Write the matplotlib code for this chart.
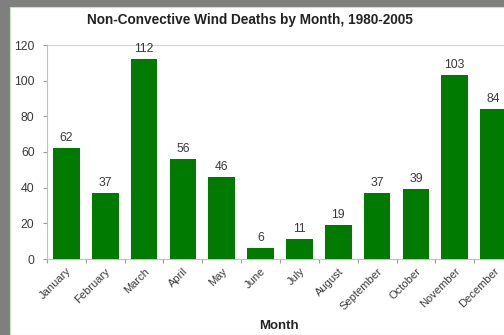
import matplotlib
matplotlib.use("Agg")
import matplotlib.pyplot as plt
from matplotlib.patches import Rectangle

months = ["January", "February", "March", "April", "May", "June", "July",
          "August", "September", "October", "November", "December"]
deaths = [62, 37, 112, 56, 46, 6, 11, 19, 37, 39, 103, 84]
yticks = [0, 20, 40, 60, 80, 100, 120]

plt.rcParams['font.family'] = ['Liberation Sans', 'DejaVu Sans']

fig = plt.figure(figsize=(5.04, 3.35), dpi=100, facecolor='#7f807e')
fig.patches.append(Rectangle((10/504, 0), 1, (335-7)/335, transform=fig.transFigure,
                             facecolor='white', edgecolor='#c8e0c0', linewidth=0.8, zorder=-5))

ax = fig.add_axes([47/504, 76/335, 466/504, 214/335])
ax.set_facecolor('none')
x = list(range(len(months)))
ax.bar(x, deaths, width=0.69, color='#007a00', zorder=3)
for xi, v in zip(x, deaths):
    ax.text(xi, v + 2.5, str(v), ha='center', va='bottom', fontsize=8.8, color='#3a3a3a')

ax.set_xlim(-0.5, len(months) - 0.5)
ax.set_ylim(0, 120)
ax.set_yticks(yticks)
ax.tick_params(axis='y', labelsize=8.8, colors='#999999', labelcolor='#3a3a3a', length=3, width=0.8, pad=6)
ax.set_xticks(x)
ax.set_xticklabels(months, rotation=45, ha='right', rotation_mode='anchor', fontsize=8, color='#3a3a3a')
ax.tick_params(axis='x', length=0, pad=5)
ax.set_xticks([i + 0.5 for i in range(-1, len(months))], minor=True)
ax.tick_params(axis='x', which='minor', length=3, width=0.8, color='#999999')
ax.axhline(120, color='#d0d0d0', linewidth=0.8, zorder=1)

for s in ['top', 'right']:
    ax.spines[s].set_visible(False)
ax.spines['left'].set_color('#c0c0c0')
ax.spines['bottom'].set_color('#c0c0c0')
ax.spines['left'].set_linewidth(0.8)
ax.spines['bottom'].set_linewidth(0.8)

fig.text(250/504, 1 - 20/335, "Non-Convective Wind Deaths by Month, 1980-2005", ha='center', va='center',
         fontsize=9.8, fontweight='bold', color='#222222')
fig.text(279/504, 1 - 326/335, "Month", ha='center', va='center', fontsize=9.5,
         fontweight='bold', color='#222222')

fig.savefig("out.png", dpi=100, facecolor=fig.get_facecolor())
